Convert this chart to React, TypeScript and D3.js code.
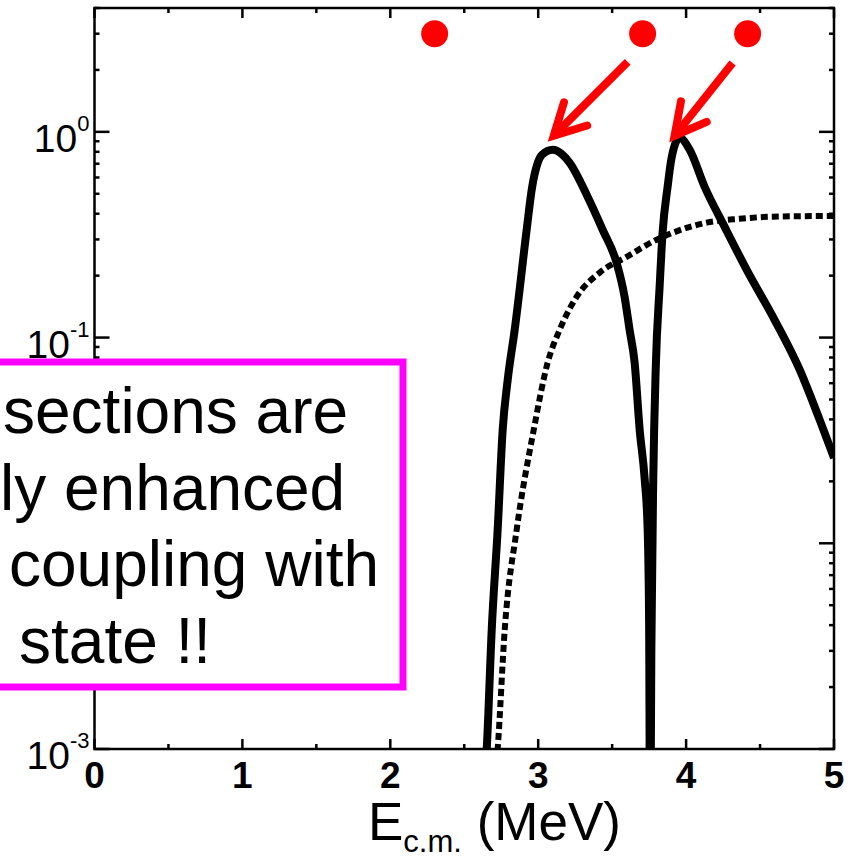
import React from "react";
import * as d3 from "d3";

const xTicks = [0, 1, 2, 3, 4, 5];
const xMinorTicks = [0.5, 1.5, 2.5, 3.5, 4.5];
const yDecadeExps = [0, -1, -3];
const yMajorExps = [0, -1, -2, -3];

const solidE = [2.63, 2.652, 2.686, 2.726, 2.76, 2.794, 2.841, 2.922, 2.956, 2.997, 3.025, 3.098, 3.16, 3.213, 3.334, 3.436, 3.53, 3.584, 3.618, 3.652, 3.686, 3.72, 3.74, 3.75, 3.757, 3.765, 3.778, 3.795, 3.821, 3.841, 3.875, 3.902, 3.956, 4.024, 4.125, 4.26, 4.409, 4.598, 4.767, 4.902, 5.0];
const solidV = [0.0006, 0.001, 0.00383, 0.0117, 0.0357, 0.0625, 0.109, 0.334, 0.523, 0.707, 0.773, 0.818, 0.78, 0.707, 0.484, 0.334, 0.231, 0.158, 0.109, 0.0756, 0.0357, 0.0205, 0.0117, 0.004, 0.0003, 0.003, 0.0205, 0.0723, 0.177, 0.323, 0.541, 0.748, 0.935, 0.818, 0.541, 0.346, 0.214, 0.122, 0.07, 0.04, 0.026];

const dottedE = [2.7, 2.726, 2.774, 2.855, 2.97, 3.064, 3.145, 3.26, 3.416, 3.598, 3.801, 3.909, 4.139, 4.361, 4.584, 5.0];
const dottedV = [0.0006, 0.001, 0.00383, 0.0117, 0.0357, 0.0756, 0.109, 0.158, 0.207, 0.247, 0.299, 0.323, 0.362, 0.378, 0.387, 0.39];

const levelE = [2.3, 3.706, 4.416];
const levelV = [3, 3, 3];

const arrowFromE = [3.605, 4.314];
const arrowFromV = [2.19, 2.16];
const arrowToE = [3.105, 3.922];
const arrowToV = [0.957, 0.957];

const boxLines = ["sections are", "ly enhanced", "coupling with", "state !!"];
const boxLineX = [3, 0, 9, 19];

const W = 856;
const H = 865;
const L = 94.5, R = 834, T = 8, B = 749;

export default function App() {
  const x = d3.scaleLinear().domain([0, 5]).range([L, R]);
  const y = d3.scaleLog().domain([1e-3, 4]).range([B, T]);

  const solid = solidE.map((e, i) => [e, solidV[i]] as [number, number]);
  const dotted = dottedE.map((e, i) => [e, dottedV[i]] as [number, number]);
  const line = d3
    .line<[number, number]>()
    .x((d) => x(d[0]))
    .y((d) => y(d[1]))
    .curve(d3.curveMonotoneX);

  const yMinor: number[] = [];
  for (let p = -3; p <= 0; p++) {
    for (let k = 2; k <= 9; k++) {
      const v = k * Math.pow(10, p);
      if (v <= 4) yMinor.push(v);
    }
  }

  const font = "'Liberation Sans', Arial, sans-serif";
  const wingLen = 35;
  const wingAng = (28 * Math.PI) / 180;

  return (
    <svg
      width={W}
      height={H}
      style={{ position: "absolute", left: 0, top: 0, background: "#fff" }}
      fontFamily={font}
    >
      <defs>
        <clipPath id="plotclip">
          <rect x={L} y={T} width={R - L} height={B - T} />
        </clipPath>
      </defs>
      <rect x={0} y={0} width={W} height={H} fill="#fff" />

      {/* curves */}
      <g clipPath="url(#plotclip)">
        <path d={line(dotted) || ""} fill="none" stroke="#000" strokeWidth={6} strokeDasharray="7 4" />
        <path d={line(solid) || ""} fill="none" stroke="#000" strokeWidth={8} strokeLinejoin="round" />
      </g>

      {/* frame */}
      <rect x={L} y={T} width={R - L} height={B - T} fill="none" stroke="#000" strokeWidth={2.5} />

      {/* x ticks */}
      {xTicks.map((t) => (
        <g key={"xt" + t}>
          <line x1={x(t)} x2={x(t)} y1={B} y2={B - 10} stroke="#000" strokeWidth={2.5} />
          <line x1={x(t)} x2={x(t)} y1={T} y2={T + 10} stroke="#000" strokeWidth={2.5} />
          <text x={x(t)} y={788} textAnchor="middle" fontSize={37} fontWeight="bold">
            {t}
          </text>
        </g>
      ))}
      {xMinorTicks.map((t) => (
        <g key={"xm" + t}>
          <line x1={x(t)} x2={x(t)} y1={B} y2={B - 5} stroke="#000" strokeWidth={2.5} />
          <line x1={x(t)} x2={x(t)} y1={T} y2={T + 5} stroke="#000" strokeWidth={2.5} />
        </g>
      ))}

      {/* y ticks */}
      {yMajorExps.map((p) => {
        const yy = y(Math.pow(10, p));
        return (
          <g key={"yt" + p}>
            <line x1={L} x2={L + 15} y1={yy} y2={yy} stroke="#000" strokeWidth={2.5} />
            <line x1={R} x2={R - 15} y1={yy} y2={yy} stroke="#000" strokeWidth={2.5} />
          </g>
        );
      })}
      {yDecadeExps.map((p) => {
        const yy = y(Math.pow(10, p));
        return (
          <text key={"yl" + p} x={L - 5} y={yy + 20} textAnchor="end" fontSize={39}>
            10
            <tspan fontSize={22} dy={-21}>{String(p)}</tspan>
          </text>
        );
      })}
      {yMinor.map((v) => (
        <g key={"ym" + v}>
          <line x1={L} x2={L + 5} y1={y(v)} y2={y(v)} stroke="#000" strokeWidth={2.5} />
          <line x1={R} x2={R - 5} y1={y(v)} y2={y(v)} stroke="#000" strokeWidth={2.5} />
        </g>
      ))}

      {/* x axis title */}
      <text x={368} y={840} fontSize={53}>
        E
        <tspan fontSize={31} dy={12}>c.m.</tspan>
        <tspan fontSize={53} dy={-12}> (MeV)</tspan>
      </text>

      {/* red level dots */}
      {levelE.map((e, i) => (
        <circle key={"d" + i} cx={x(e)} cy={y(levelV[i])} r={13.5} fill="#ff0000" />
      ))}

      {/* red arrows */}
      {arrowFromE.map((e, i) => {
        const x0 = x(e), y0 = y(arrowFromV[i]);
        const x1 = x(arrowToE[i]), y1 = y(arrowToV[i]);
        const back = Math.atan2(y0 - y1, x0 - x1);
        const w1x = x1 + wingLen * Math.cos(back - wingAng);
        const w1y = y1 + wingLen * Math.sin(back - wingAng);
        const w2x = x1 + wingLen * Math.cos(back + wingAng);
        const w2y = y1 + wingLen * Math.sin(back + wingAng);
        return (
          <g key={"a" + i} stroke="#ff0000" strokeWidth={8} fill="none">
            <line x1={x0} y1={y0} x2={x1 + 4 * Math.cos(back)} y2={y1 + 4 * Math.sin(back)} />
            <polyline
              points={`${w1x},${w1y} ${x1},${y1} ${w2x},${w2y}`}
              strokeLinejoin="miter"
              strokeLinecap="round"
            />
          </g>
        );
      })}

      {/* magenta annotation box */}
      <rect x={-20} y={362} width={423} height={325} fill="#fff" stroke="#ff00ff" strokeWidth={7} />
      {boxLines.map((s, i) => (
        <text key={"b" + i} x={boxLineX[i]} y={433 + i * 76.7} fontSize={64} fill="#000">
          {s}
        </text>
      ))}
    </svg>
  );
}
